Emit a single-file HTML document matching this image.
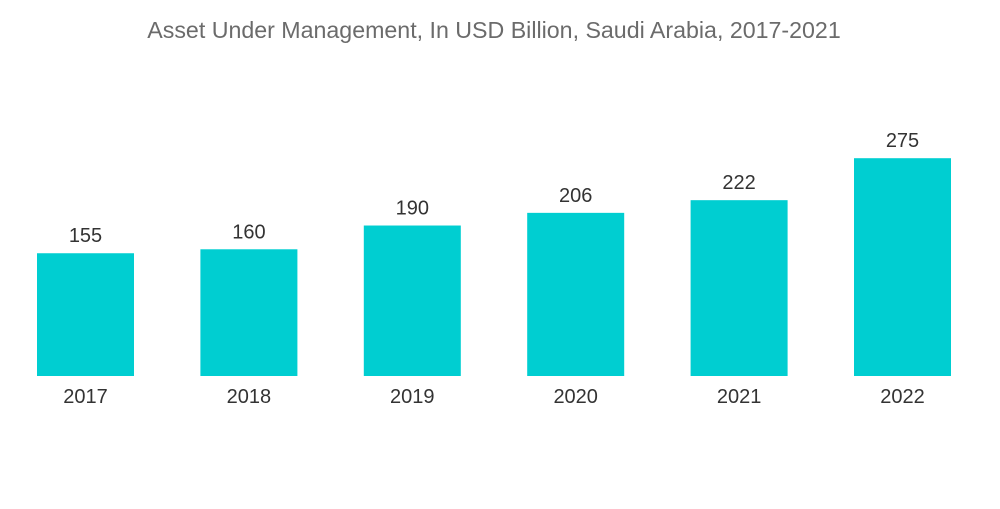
<!DOCTYPE html>
<html><head><meta charset="utf-8"><style>
body{margin:0;background:#fff;width:1000px;height:504px;overflow:hidden;font-family:"Liberation Sans",sans-serif}
</style></head><body>
<svg id="chart" width="1000" height="504">
<text x="494" y="38" text-anchor="middle" font-size="23.2" fill="#6b6b6b">Asset Under Management, In USD Billion, Saudi Arabia, 2017-2021</text>
</svg>
<script>
const categories=["2017","2018","2019","2020","2021","2022"];
const values=[155,160,190,206,222,275];
const svg=document.getElementById('chart');
const NS='http://www.w3.org/2000/svg';
const baseY=376, scaleK=0.792, x0=37, step=163.4, bw=97;
function xPos(i){return x0+i*step;}
function yPos(v){return baseY-v*scaleK;}
categories.forEach((c,i)=>{
  const r=document.createElementNS(NS,'rect');
  r.setAttribute('x',xPos(i));r.setAttribute('y',yPos(values[i]));
  r.setAttribute('width',bw);r.setAttribute('height',baseY-yPos(values[i]));
  r.setAttribute('fill','#00ced1');
  
  
  svg.appendChild(r);
  const t=document.createElementNS(NS,'text');
  t.setAttribute('x',xPos(i)+bw/2);t.setAttribute('y',yPos(values[i])-11);
  t.setAttribute('text-anchor','middle');t.setAttribute('font-size','20');t.setAttribute('fill','#333');
  t.textContent=values[i];
  
  
  svg.appendChild(t);
  const l=document.createElementNS(NS,'text');
  l.setAttribute('x',xPos(i)+bw/2);l.setAttribute('y',403);
  l.setAttribute('text-anchor','middle');l.setAttribute('font-size','20');l.setAttribute('fill','#333');
  l.textContent=c;
  
  
  svg.appendChild(l);
});
</script>
</body></html>
